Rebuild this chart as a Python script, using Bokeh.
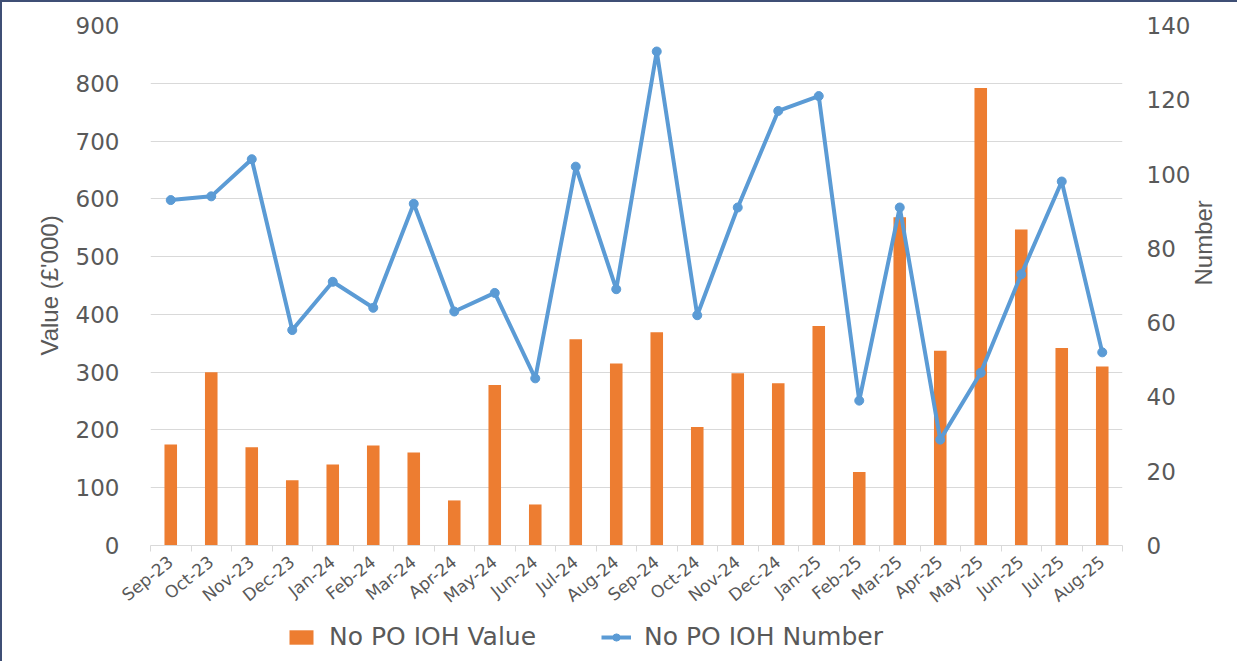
import math
from bokeh.plotting import figure
from bokeh.layouts import column
from bokeh.models import (Range1d, LinearAxis, FixedTicker, Legend, LegendItem)
from bokeh.embed import file_html
from bokeh.resources import INLINE

months = ["Sep-23", "Oct-23", "Nov-23", "Dec-23", "Jan-24", "Feb-24", "Mar-24", "Apr-24",
          "May-24", "Jun-24", "Jul-24", "Aug-24", "Sep-24", "Oct-24", "Nov-24", "Dec-24",
          "Jan-25", "Feb-25", "Mar-25", "Apr-25", "May-25", "Jun-25", "Jul-25", "Aug-25"]
value_k = [175, 300, 170, 113, 140, 173, 161, 78, 278, 71, 357, 315,
           369, 205, 298, 281, 380, 127, 568, 337, 792, 547, 342, 310]
number = [93, 94, 104, 58, 71, 64, 92, 63, 68, 45, 102, 69,
          133, 62, 91, 117, 121, 39, 91, 28.5, 46.5, 73, 98, 52]
left_ticks = [0, 100, 200, 300, 400, 500, 600, 700, 800, 900]
right_ticks = [0, 20, 40, 60, 80, 100, 120, 140]
series_names = ["No PO IOH Value", "No PO IOH Number"]

BAR = "#ED7D31"
LINE = "#5B9BD5"
TXT = "#595959"
GRID = "#D9D9D9"
FONT = "DejaVu Sans"
TFONT = "Liberation Sans"

n = len(months)
xs = list(range(n))

p = figure(width=1235, height=615, output_backend="svg", toolbar_location=None,
           x_range=Range1d(-0.5, n - 0.5), y_range=Range1d(0, 900),
           min_border_left=148, min_border_right=115, min_border_top=23,
           min_border_bottom=65)
p.outline_line_color = None
p.background_fill_color = "white"
p.border_fill_color = "white"

p.extra_y_ranges = {"num": Range1d(0, 140)}

bars = p.vbar(x=xs, top=value_k, width=0.31, fill_color=BAR, line_color=None)
ln = p.line(x=xs, y=number, y_range_name="num", line_color=LINE, line_width=4)
sc = p.scatter(x=xs, y=number, y_range_name="num", size=9, fill_color=LINE, line_color=LINE)

# x axis
xa = p.xaxis[0]
xa.ticker = FixedTicker(ticks=xs, minor_ticks=[i - 0.5 for i in range(n + 1)])
xa.major_label_overrides = {i: m for i, m in enumerate(months)}
xa.major_label_orientation = 0.68
xa.major_tick_line_color = None
xa.minor_tick_line_color = GRID
xa.minor_tick_in = 0
xa.minor_tick_out = 6
xa.axis_line_color = GRID
xa.major_label_text_font = FONT
xa.major_label_text_font_size = "17px"
xa.major_label_text_color = TXT
xa.major_label_standoff = 8

# left axis
ya = p.yaxis[0]
ya.ticker = FixedTicker(ticks=left_ticks)
ya.axis_line_color = None
ya.major_tick_line_color = None
ya.minor_tick_line_color = None
ya.major_label_text_font = FONT
ya.major_label_text_font_size = "23px"
ya.major_label_text_color = TXT
ya.major_label_standoff = 25
ya.axis_label = "Value (£'000)"
ya.axis_label_text_font = TFONT
ya.axis_label_text_font_size = "24px"
ya.axis_label_text_font_style = "normal"
ya.axis_label_text_color = TXT
ya.axis_label_standoff = 10

# right axis
ra = LinearAxis(y_range_name="num", ticker=FixedTicker(ticks=right_ticks))
ra.axis_line_color = None
ra.major_tick_line_color = None
ra.minor_tick_line_color = None
ra.major_label_text_font = FONT
ra.major_label_text_font_size = "23px"
ra.major_label_text_color = TXT
ra.major_label_standoff = 18
ra.axis_label = "Number"
ra.axis_label_text_font = TFONT
ra.axis_label_text_font_size = "24px"
ra.axis_label_text_font_style = "normal"
ra.axis_label_text_color = TXT
ra.axis_label_standoff = 10
if "axis_label_orientation" in ra.properties():
    ra.axis_label_orientation = math.pi / 2
p.add_layout(ra, "right")

p.xgrid.grid_line_color = None
p.ygrid.grid_line_color = GRID
p.ygrid.grid_line_width = 1

# legend strip below the chart (proxy renderers carry only NaN, so they draw nothing)
nan = float("nan")
lg = figure(width=1235, height=44, output_backend="svg", toolbar_location=None,
            x_range=Range1d(0, 1), y_range=Range1d(0, 1),
            x_axis_type=None, y_axis_type=None,
            min_border_left=0, min_border_right=0, min_border_top=0, min_border_bottom=0)
lg.grid.grid_line_color = None
lg.outline_line_color = None
lb = lg.vbar(x=[nan], top=[nan], width=0.31, fill_color=BAR, line_color=None)
ll = lg.line(x=[nan], y=[nan], line_color=LINE, line_width=4)
ls = lg.scatter(x=[nan], y=[nan], size=9, fill_color=LINE, line_color=LINE)
legend = Legend(items=[LegendItem(label=series_names[0], renderers=[lb]),
                       LegendItem(label=series_names[1], renderers=[ll, ls])],
                orientation="horizontal", location=(136, 10),
                glyph_width=30, glyph_height=18, label_standoff=13, spacing=65,
                label_text_font=FONT, label_text_font_size="25px",
                label_text_color=TXT, border_line_color=None,
                background_fill_alpha=0, margin=0, padding=2)
lg.add_layout(legend, "center")

layout = column(p, lg, spacing=0)
layout.styles = {"border-left": "2px solid #3F4F75", "border-top": "2px solid #3F4F75"}

open("out.html", "w").write(file_html(layout, INLINE))
